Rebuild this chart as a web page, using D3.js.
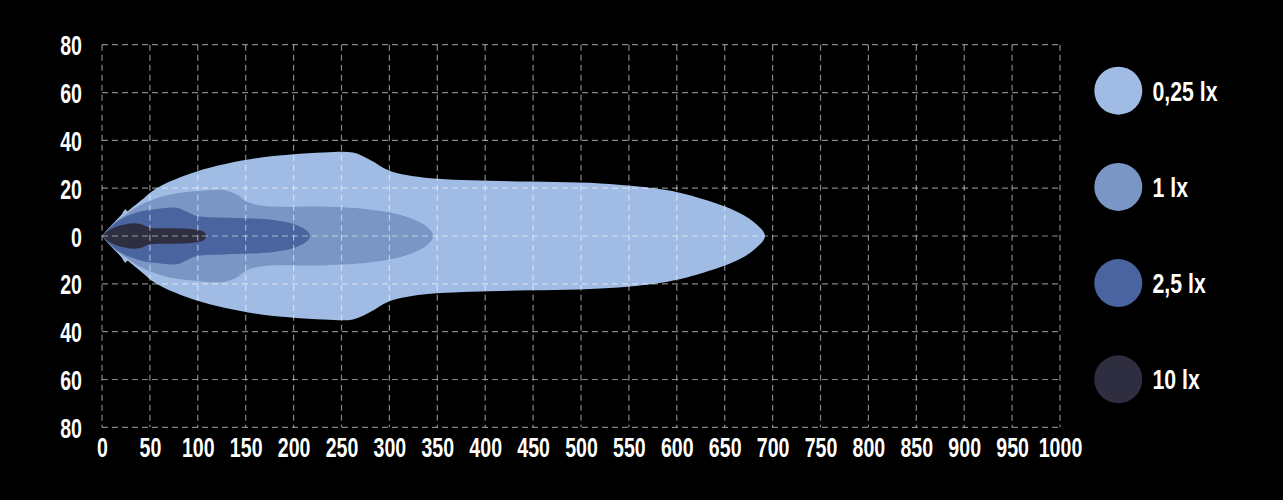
<!DOCTYPE html>
<html>
<head>
<meta charset="utf-8">
<script src="https://cdn.jsdelivr.net/npm/d3@7"></script>
<style>
  html, body { margin: 0; padding: 0; background: #000; }
  svg { display: block; }
  .lbl { font-family: "Liberation Sans", Arial, sans-serif; font-weight: bold; fill: #fff; }
</style>
</head>
<body>
<svg id="chart" width="1283" height="500"></svg>
<script>
// ---- data ----
const levels = ["0,25 lx", "1 lx", "2,5 lx", "10 lx"];
const levelColors = ["#a0bce4", "#7a96c4", "#4a64a0", "#2e2e40"];
const xTicks = d3.range(0, 1001, 50);
const yTicks = [-80, -60, -40, -20, 0, 20, 40, 60, 80];
// contours: [distance (m), half width (m)]
const contour025 = [[0,0],[10,4.6],[20,8.8],[24.5,11.2],[26.5,10.4],[30,11.4],[40,14.6],[57,20],[99,27],[161,32.5],[231,34.9],[262,34.9],[280,31.8],[300,27.3],[335,24.5],[405,23.1],[520,22],[589,19.2],[624,15.8],[659,10.9],[680,6],[692,0]];
const contour1 = [[0,0],[12,5.2],[25,9],[40,13],[57,15.8],[74,17.6],[99,18.8],[127,19.2],[141,17.2],[151,14.4],[168,12.6],[231,12.3],[283,10.9],[318,8.1],[339,3.9],[346,0]];
const contour25 = [[0,0],[10,4.2],[22,7.5],[40,10.2],[57,11.3],[78,11.8],[88,10.2],[99,8.4],[127,7.7],[179,6.7],[203,4.6],[215,1.8],[217,0]];
const contour10 = [[0,0],[8,2.5],[15,3.9],[25,4.9],[33,5.3],[41,4.9],[50,3.5],[74,3.2],[95,2.8],[106,1.8],[109,0]];
const contours = [contour025, contour1, contour25, contour10];

// ---- layout ----
const svg = d3.select("#chart");
const x = d3.scaleLinear().domain([0, 1000]).range([102, 1060]);
const y = d3.scaleLinear().domain([-80, 80]).range([427.3, 44.7]);
const FS = 28, SX = 0.7;

// shapes
const line = d3.line().x(d => x(d[0])).y(d => y(d[1])).curve(d3.curveCatmullRom.alpha(0.5));
contours.forEach((c, i) => {
  const upper = c.slice();
  const lower = c.slice(0, -1).reverse().map(d => [d[0], -d[1]]);
  svg.append("path")
    .attr("d", line(upper.concat(lower)))
    .attr("fill", levelColors[i]);
});

// grid on top
const grid = svg.append("g").attr("stroke", "#fff").attr("stroke-opacity", 0.52)
  .attr("stroke-width", 1.2).attr("stroke-dasharray", "6,4").attr("fill", "none");
grid.selectAll("line.v").data(xTicks).join("line")
  .attr("x1", d => x(d)).attr("x2", d => x(d))
  .attr("y1", y(80)).attr("y2", y(-80));
grid.selectAll("line.h").data(yTicks).join("line")
  .attr("y1", d => y(d)).attr("y2", d => y(d))
  .attr("x1", x(0)).attr("x2", x(1000));

// axes labels via d3 axes
const xAxis = d3.axisBottom(x).tickValues(xTicks).tickSize(0).tickPadding(0).tickFormat(d => d);
const gx = svg.append("g").attr("transform", `translate(0,${y(-80)})`).call(xAxis);
gx.select(".domain").remove();
gx.selectAll("text").attr("class", "lbl").attr("x", 0).attr("y", 0).attr("dy", "0.36em")
  .attr("transform", `translate(0,19.5) scale(${SX},1)`).style("font-size", FS + "px");

const yAxis = d3.axisLeft(y).tickValues(yTicks).tickSize(0).tickPadding(0).tickFormat(d => Math.abs(d));
const gy = svg.append("g").attr("transform", `translate(${x(0)},0)`).call(yAxis);
gy.select(".domain").remove();
gy.selectAll("text").attr("class", "lbl").attr("x", 0).attr("dy", "0.36em")
  .attr("transform", `translate(-20,0) scale(${SX},1)`).style("font-size", FS + "px");

// legend
const leg = svg.append("g");
levels.forEach((l, i) => {
  const cy = 90.7 + i * 96.2;
  leg.append("circle").attr("cx", 1118.3).attr("cy", cy).attr("r", 24).attr("fill", levelColors[i]);
  leg.append("text").attr("class", "lbl").attr("x", 0).attr("y", 0).attr("dy", "0.36em")
    .attr("transform", `translate(1152.5,${cy}) scale(0.76,1)`)
    .style("font-size", FS + "px").text(l);
});
</script>
</body>
</html>
